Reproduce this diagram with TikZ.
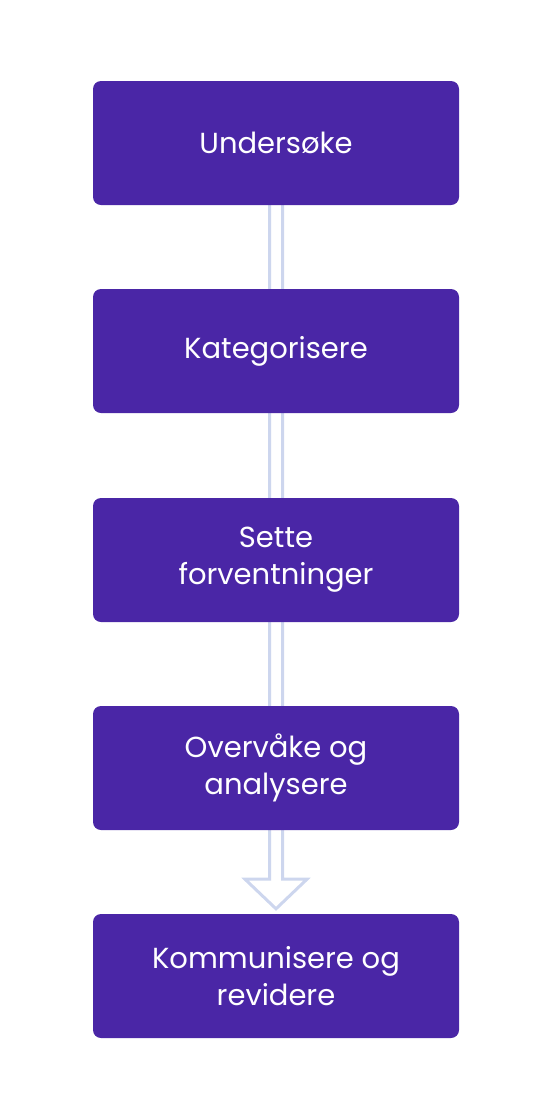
\documentclass[tikz,border=0pt]{standalone}
\usepackage{fontspec}
\setmainfont{Poppins}
\usetikzlibrary{calc,backgrounds}
\definecolor{boxpurple}{HTML}{4A26A6}
\definecolor{arrowblue}{HTML}{CDD6EE}
\tikzset{
  stepbox/.style={fill=boxpurple, draw=none, rounded corners=8pt, minimum width=366pt, minimum height=124pt, text=white, align=center, font=\fontsize{29pt}{37pt}\selectfont, inner sep=0pt},
  flowarrow/.style={draw=arrowblue, line width=3pt, line join=miter, fill=white}
}
\begin{document}
\begin{tikzpicture}[x=1pt,y=-1pt]
\useasboundingbox (0,0) rectangle (550,1117);
\node[stepbox] (b1) at (276,143) {Undersøke};
\node[stepbox] (b2) at (276,351) {Kategorisere};
\node[stepbox] (b3) at (276,560) {Sette\\forventninger};
\node[stepbox] (b4) at (276,768) {Overvåke og\\analysere};
\node[stepbox] (b5) at (276,976) {Kommunisere og\\revidere};
\coordinate (tip) at ($(b5.north)+(0,-5)$);
\begin{scope}[on background layer]
\path[flowarrow] ($(b1.south)+(-6.5,-10)$) -- ($(b1.south)+(-6.5,674)$) -- ($(b1.south)+(-31,674)$) -- (tip) -- ($(b1.south)+(31,674)$) -- ($(b1.south)+(6.5,674)$) -- ($(b1.south)+(6.5,-10)$);
\end{scope}
\end{tikzpicture}
\end{document}
